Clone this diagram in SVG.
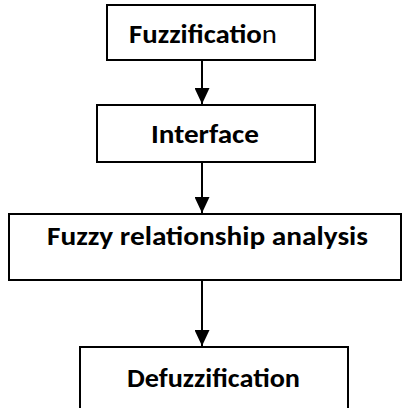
<svg xmlns="http://www.w3.org/2000/svg" width="402" height="408" viewBox="0 0 402 408">
  <style>
    .box { fill: #ffffff; stroke: #000000; stroke-width: 2; }
    .lbl { font-family: Carlito, Calibri, Lato, "Liberation Sans", sans-serif; font-size: 27px; font-weight: bold; fill: #000000; }
    .reg { font-weight: normal; }
    .edge { stroke: #000000; stroke-width: 2; fill: none; marker-end: url(#head); }
  </style>
  <defs>
    <marker id="head" viewBox="0 0 16 15" refX="16" refY="7.5" markerWidth="16" markerHeight="15" markerUnits="userSpaceOnUse" orient="auto">
      <path d="M0,0 L16,7.5 L0,15 Z" fill="#000000"/>
    </marker>
  </defs>
  <rect width="402" height="408" fill="#ffffff"/>

  <g id="connectors">
    <line class="edge" x1="202" y1="60" x2="202" y2="104"/>
    <line class="edge" x1="202" y1="162" x2="202" y2="213"/>
    <line class="edge" x1="202" y1="280" x2="202" y2="346"/>
  </g>

  <g id="fuzzification">
    <rect class="box" x="107" y="5" width="208" height="55"/>
    <text class="lbl" x="129" y="43" textLength="148" lengthAdjust="spacingAndGlyphs">Fuzzificatio<tspan class="reg">n</tspan></text>
  </g>

  <g id="interface">
    <rect class="box" x="97" y="105" width="218" height="57"/>
    <text class="lbl" x="151" y="143" textLength="108" lengthAdjust="spacingAndGlyphs">Interface</text>
  </g>

  <g id="relationship">
    <rect class="box" x="9" y="214" width="392" height="66"/>
    <text class="lbl" x="47" y="245" textLength="321" lengthAdjust="spacingAndGlyphs">Fuzzy relationship analysis</text>
  </g>

  <g id="defuzzification">
    <rect class="box" x="80" y="347" width="268" height="70"/>
    <text class="lbl" x="127" y="387" textLength="173" lengthAdjust="spacingAndGlyphs">Defuzzification</text>
  </g>
</svg>
